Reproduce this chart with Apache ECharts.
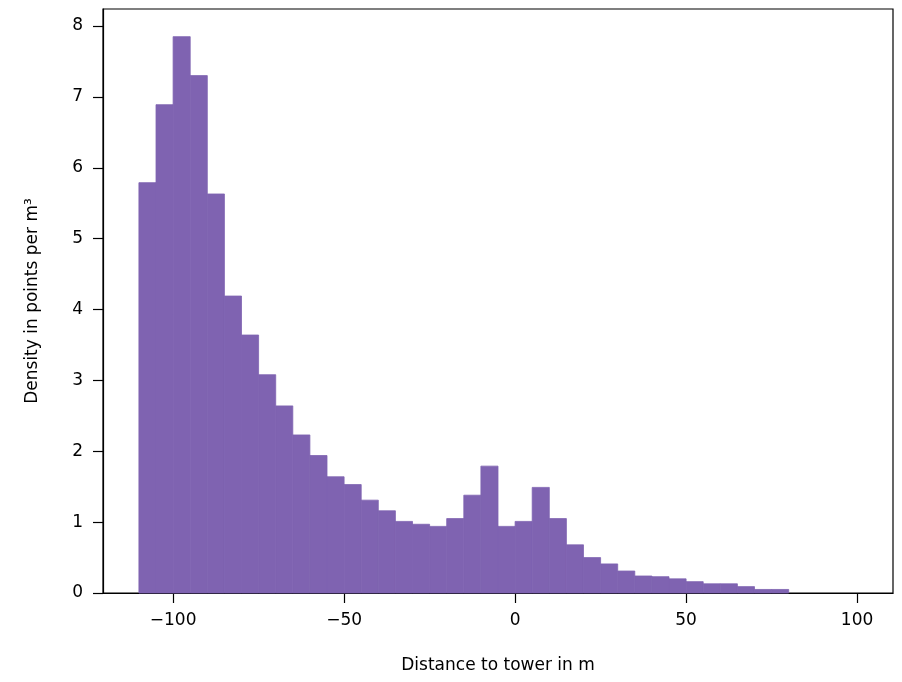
<!DOCTYPE html>
<html lang="en">
<head>
    <meta charset="UTF-8">
    <title>Density histogram</title>
    <style>
        html, body { margin: 0; padding: 0; background: #ffffff; }
        #container { width: 902px; height: 682px; }
    </style>
</head>
<body>
    <div id="container"></div>
</body>
<script src="https://cdn.jsdelivr.net/npm/echarts@6.0.0/dist/echarts.min.js"></script>
<script>
    // bin left edges, width 5 m
    var binStart = [-110, -105, -100, -95, -90, -85, -80, -75, -70, -65,
        -60, -55, -50, -45, -40, -35, -30, -25, -20, -15,
        -10, -5, 0, 5, 10, 15, 20, 25, 30, 35,
        40, 45, 50, 55, 60, 65, 70, 75];
    var binWidth = 5;
    // density in points per m3
    var density = [5.79, 6.89, 7.85, 7.30, 5.63, 4.19, 3.64, 3.08, 2.64, 2.23,
        1.94, 1.64, 1.53, 1.31, 1.16, 1.01, 0.97, 0.94, 1.05, 1.38,
        1.79, 0.94, 1.01, 1.49, 1.05, 0.68, 0.50, 0.41, 0.31, 0.24,
        0.23, 0.20, 0.16, 0.13, 0.13, 0.09, 0.05, 0.05];
    var xTicks = [-100, -50, 0, 50, 100];
    var yTicks = [0, 1, 2, 3, 4, 5, 6, 7, 8];

    var chart = echarts.init(document.getElementById('container'));

    var data = [];
    for (var i = 0; i < binStart.length; i++) {
        data.push([binStart[i], binStart[i] + binWidth, density[i]]);
    }

    function minus(v) {
        return String(v).replace('-', '\u2212');
    }

    var font = 'DejaVu Sans';
    var barColor = '#7f63b1';

    var option = {
        backgroundColor: '#ffffff',
        animation: false,
        grid: {
            left: 103,
            right: 9,
            top: 9,
            bottom: 89,
            show: true,
            borderColor: '#000',
            borderWidth: 1.2,
            backgroundColor: 'transparent'
        },
        xAxis: {
            type: 'value',
            min: -120.5,
            max: 110.5,
            name: 'Distance to tower in m',
            nameLocation: 'middle',
            nameGap: 64,
            nameTextStyle: { color: '#000', fontSize: 17, fontFamily: font },
            axisLine: { onZero: false, lineStyle: { color: '#000', width: 1.2 } },
            axisTick: { show: true, length: 10, lineStyle: { color: '#000', width: 1.2 }, customValues: xTicks },
            axisLabel: {
                color: '#000', fontSize: 17, fontFamily: font, margin: 19,
                customValues: xTicks,
                formatter: function (v) { return minus(v); }
            },
            splitLine: { show: false }
        },
        yAxis: {
            type: 'value',
            min: 0,
            max: 8.24,
            name: 'Density in points per m\u00b3',
            nameLocation: 'middle',
            nameGap: 62,
            nameTextStyle: { color: '#000', fontSize: 17, fontFamily: font },
            axisLine: { show: true, onZero: false, lineStyle: { color: '#000', width: 1.2 } },
            axisTick: { show: true, length: 10, lineStyle: { color: '#000', width: 1.2 }, customValues: yTicks },
            axisLabel: {
                color: '#000', fontSize: 17, fontFamily: font, margin: 20,
                customValues: yTicks
            },
            splitLine: { show: false }
        },
        series: [{
            type: 'custom',
            data: data,
            encode: { x: [0, 1], y: 2 },
            renderItem: function (params, api) {
                var p0 = api.coord([api.value(0), 0]);
                var p1 = api.coord([api.value(1), api.value(2)]);
                return {
                    type: 'rect',
                    shape: { x: p0[0], y: p1[1], width: p1[0] - p0[0], height: p0[1] - p1[1] },
                    style: { fill: barColor, stroke: barColor, lineWidth: 0.8 }
                };
            }
        }]
    };
    chart.setOption(option);
</script>
</html>
